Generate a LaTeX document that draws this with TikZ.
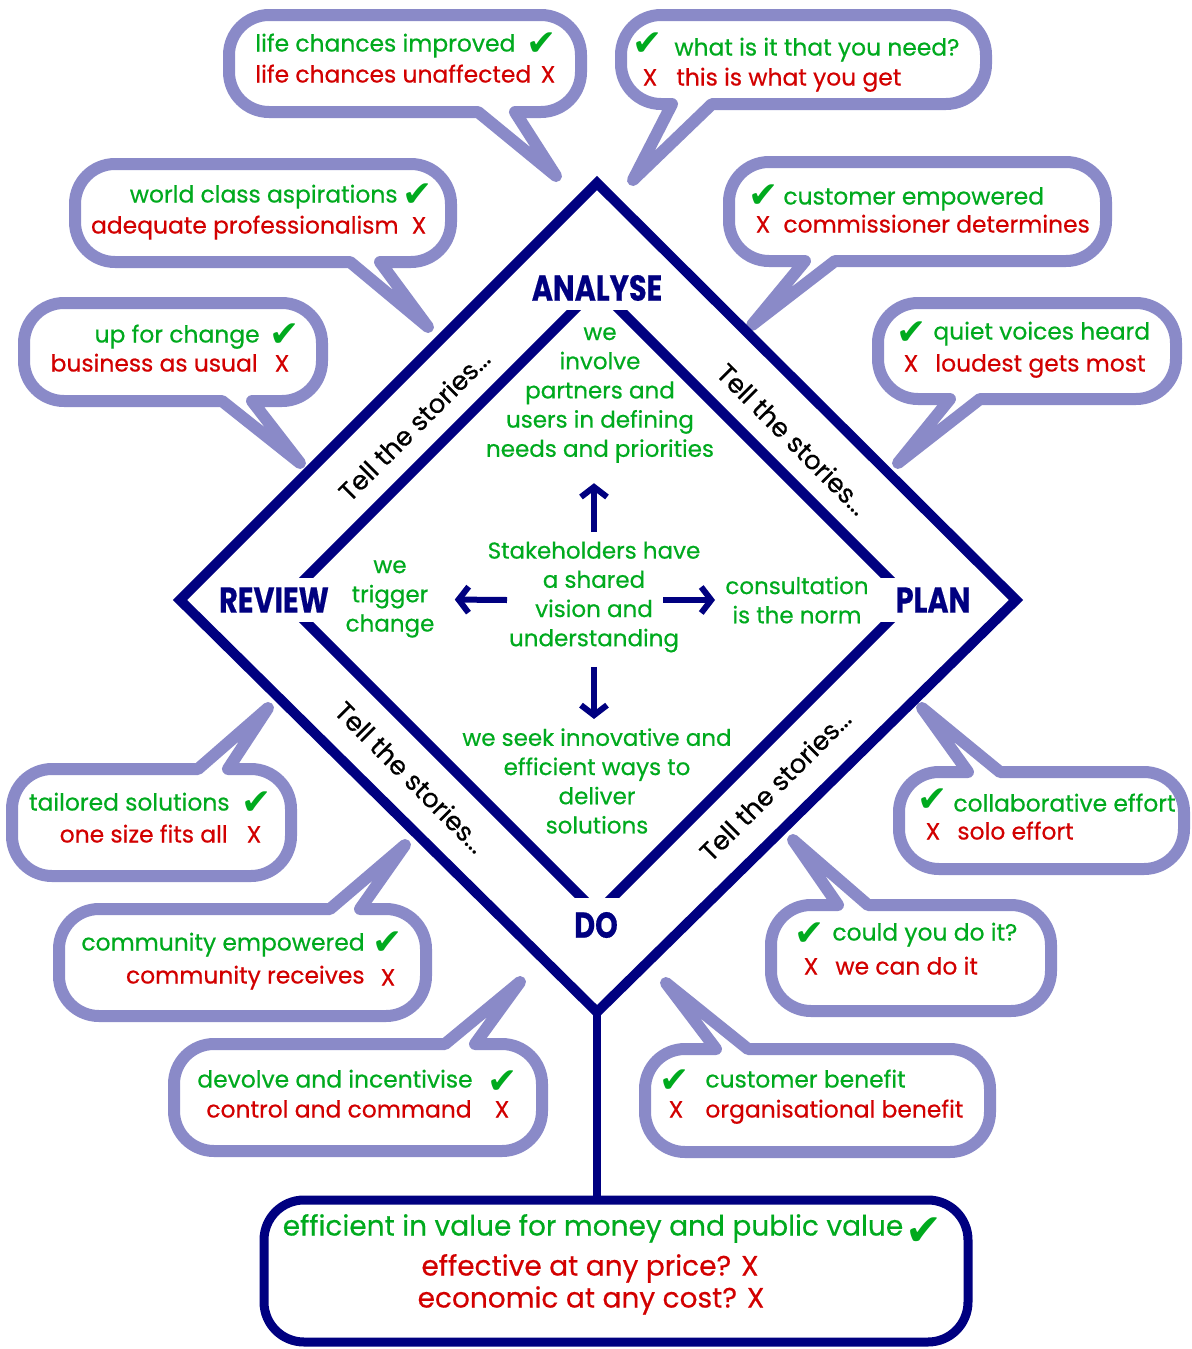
\documentclass[tikz,border=0pt]{standalone}
\usepackage{fontspec}
\usepackage{graphicx}
\usetikzlibrary{arrows.meta}
\setmainfont{Poppins}[FakeBold=0.5]
\newfontfamily\symbfont{DejaVu Sans}

\definecolor{navy}{RGB}{0,0,128}
\definecolor{lilac}{RGB}{138,138,200}
\definecolor{okgreen}{RGB}{0,170,30}
\definecolor{badred}{RGB}{210,0,0}

\tikzset{
  frame/.style={draw=navy, line width=5pt, line join=miter},
  bubble/.style={draw=lilac, fill=white, line width=6pt, line join=round},
  good/.style={text=okgreen, font=\fontsize{11.7}{13}\selectfont, inner sep=0pt, text height=0.75em, text depth=0.2em},
  bad/.style={good, text=badred},
  tick/.style={text=okgreen, font=\symbfont\fontsize{18}{18}\selectfont, inner sep=0pt},
  cross/.style={bad, anchor=center},
  midtext/.style={text=okgreen, align=center, inner sep=0pt, font=\fontsize{11.5}{14.6}\selectfont},
  stage/.style={text=navy, font=\bfseries\fontsize{18}{18}\selectfont},
  story/.style={font=\fontsize{13}{13}\selectfont},
  flow/.style={draw=navy, line width=3pt, -{Straight Barb[length=5pt,width=13pt]}}
}

% speech bubble: left, right, edge with tail, other edge, tail base, tail base, tip
\newcommand\callout[7]{%
  \draw[bubble] (#7) -- (#6,#3) [rounded corners=20pt] -- (#2,#3) -- (#2,#4) -- (#1,#4) -- (#1,#3) [sharp corners] -- (#5,#3) -- cycle;}
\newcommand\narrow[1]{\scalebox{0.8}[1]{#1}}

\begin{document}
\begin{tikzpicture}[x=0.5pt, y=-0.5pt]
\useasboundingbox (0,0) rectangle (1192,1349);

\coordinate (apexN) at (597,183);
\coordinate (apexE) at (1016,600);
\coordinate (apexS) at (597,1012);
\coordinate (apexW) at (180,600);

\callout{229}{581}{112}{15}{478}{515}{556,176}
\callout{621}{986}{104}{15}{672}{712}{633,180}
\callout{75}{451}{262}{164}{350}{380}{428,327}
\callout{24}{322}{401}{303}{222}{252}{300,463}
\callout{729}{1106}{261}{162}{805}{835}{752,325}
\callout{878}{1176}{399}{303}{950}{980}{898,463}
\callout{12}{291}{769}{876}{198}{228}{268,708}
\callout{59}{426}{909}{1016}{330}{360}{405,845}
\callout{174}{542}{1044}{1151}{445}{475}{520,982}
\callout{899}{1184}{772}{869}{968}{1000}{922,708}
\callout{771}{1051}{905}{1011}{838}{868}{793,840}
\callout{645}{990}{1049}{1152}{716}{748}{666,983}

\draw[frame] (apexN) -- (apexE) -- (apexS) -- (apexW) -- cycle;
\begin{scope}
  \clip (0,310) rectangle (1192,577);
  \draw[frame] (597,287) -- (910,600) -- (597,913) -- (284,600) -- cycle;
\end{scope}
\begin{scope}
  \clip (0,622) rectangle (1192,897);
  \draw[frame] (597,287) -- (910,600) -- (597,913) -- (284,600) -- cycle;
\end{scope}

\node[draw=navy, line width=4.5pt, rounded corners=20pt, minimum width=352pt, minimum height=71pt] (goal) at (616,1271) {};
\draw[navy, line width=4pt] (apexS) -- (goal.north -| apexS);

\node[stage] (analyse) at (597,288) {\narrow{ANALYSE}};
\node[stage] (review) at (274,600) {\narrow{REVIEW}};
\node[stage] (plan) at (933,600) {\narrow{PLAN}};
\node[stage] (do) at (596,925) {\narrow{DO}};

\node[story, rotate=45] (storyNW) at (414,425) {Tell the stories...};
\node[story, rotate=-45] (storyNE) at (793,439) {Tell the stories...};
\node[story, rotate=-45] (storySW) at (411,777) {Tell the stories...};
\node[story, rotate=45] (storySE) at (775,785) {Tell the stories...};

\node[midtext] (need) at (600,395) {we\\involve\\partners and\\users in defining\\needs and priorities};
\node[midtext] (hub) at (594,597) {Stakeholders have\\a shared\\vision and\\understanding};
\node[midtext] (trig) at (390,599) {we\\trigger\\change};
\node[midtext] (consult) at (797,600) {consultation\\is the norm};
\node[midtext] (seek) at (597,781) {we seek innovative and\\efficient ways to\\deliver\\solutions};

\coordinate (hubL) at (507,600);
\coordinate (hubR) at (663,600);
\draw[flow, shorten <=4.5pt, shorten >=10pt] (hub.north) -- (hub.north |- need.south);
\draw[flow, shorten <=7pt, shorten >=4.5pt] (hub.south) -- (hub.south |- seek.north);
\draw[flow, shorten >=10pt] (hubL) -- (trig);
\draw[flow, shorten >=5pt] (hubR) -- (consult);

\node[good, anchor=west] (lifeok) at (255,46) {life chances improved};
\node[tick] (lifeokm) at (542,44) {✔};
\node[bad, anchor=west] (lifeno) at (255,77) {life chances unaffected};
\node[cross] (lifenom) at (548,77) {X};

\node[tick] (needokm) at (648,44) {✔};
\node[good, anchor=west] (needok) at (674,50) {what is it that you need?};
\node[cross] (neednom) at (650,80) {X};
\node[bad, anchor=west] (needno) at (676,80) {this is what you get};

\node[good, anchor=east] (worldok) at (398,197) {world class aspirations};
\node[tick] (worldokm) at (418,195) {✔};
\node[bad, anchor=east] (worldno) at (399,228) {adequate professionalism};
\node[cross] (worldnom) at (419,228) {X};

\node[good, anchor=east] (changeok) at (260,337) {up for change};
\node[tick] (changeokm) at (285,335) {✔};
\node[bad, anchor=east] (changeno) at (258,366) {business as usual};
\node[cross] (changenom) at (282,366) {X};

\node[tick] (custokm) at (764,196) {✔};
\node[good, anchor=west] (custok) at (783,199) {customer empowered};
\node[cross] (custnom) at (763,227) {X};
\node[bad, anchor=west] (custno) at (783,227) {commissioner determines};

\node[tick] (quietokm) at (912,333) {✔};
\node[good, anchor=west] (quietok) at (933,334) {quiet voices heard};
\node[cross] (quietnom) at (911,366) {X};
\node[bad, anchor=west] (quietno) at (935,366) {loudest gets most};

\node[good, anchor=east] (tailok) at (230,805) {tailored solutions};
\node[tick] (tailokm) at (257,803) {✔};
\node[bad, anchor=east] (tailno) at (228,837) {one size fits all};
\node[cross] (tailnom) at (254,837) {X};

\node[good, anchor=east] (commok) at (365,945) {community empowered};
\node[tick] (commokm) at (388,943) {✔};
\node[bad, anchor=east] (commno) at (365,978) {community receives};
\node[cross] (commnom) at (388,980) {X};

\node[good, anchor=east] (devok) at (473,1082) {devolve and incentivise};
\node[tick] (devokm) at (503,1082) {✔};
\node[bad, anchor=east] (devno) at (472,1112) {control and command};
\node[cross] (devnom) at (502,1112) {X};

\node[tick] (collokm) at (933,800) {✔};
\node[good, anchor=west] (collok) at (953,806) {collaborative effort};
\node[cross] (collnom) at (933,834) {X};
\node[bad, anchor=west] (collno) at (957,834) {solo effort};

\node[tick] (couldokm) at (810,934) {✔};
\node[good, anchor=west] (couldok) at (832,935) {could you do it?};
\node[cross] (couldnom) at (811,969) {X};
\node[bad, anchor=west] (couldno) at (835,969) {we can do it};

\node[tick] (beneokm) at (675,1081) {✔};
\node[good, anchor=west] (beneok) at (705,1082) {customer benefit};
\node[cross] (benenom) at (676,1112) {X};
\node[bad, anchor=west] (beneno) at (705,1112) {organisational benefit};

\node[good, font=\fontsize{14}{14}\selectfont] (goalok) at (593,1230) {efficient in value for money and public value};
\node[tick, font=\symbfont\fontsize{22}{22}\selectfont] (goalokm) at (924,1232) {✔};
\node[bad, font=\fontsize{14}{14}\selectfont] (goalno1) at (590,1270) {effective at any price? X};
\node[bad, font=\fontsize{14}{14}\selectfont] (goalno2) at (591,1302) {economic at any cost? X};
\end{tikzpicture}
\end{document}
